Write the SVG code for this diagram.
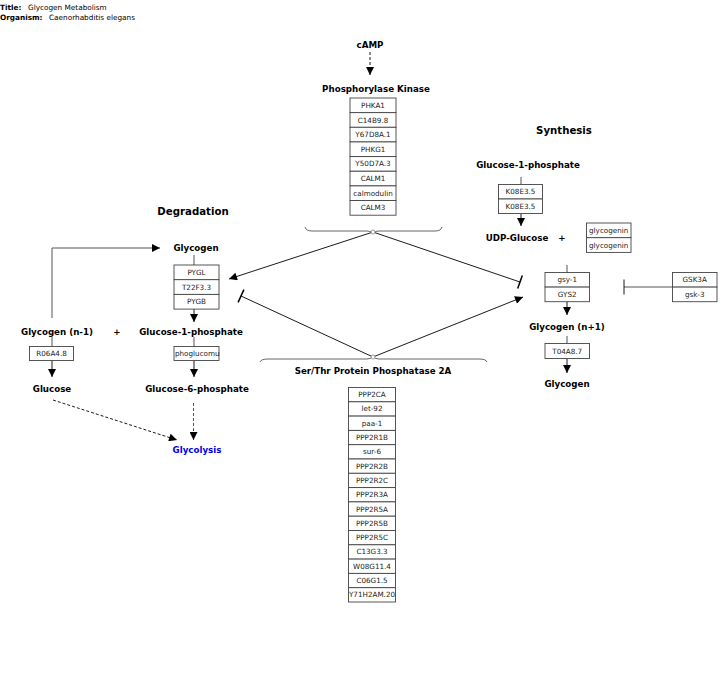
<svg xmlns="http://www.w3.org/2000/svg" width="727" height="693" viewBox="0 0 727 693">
<style>
text{font-family:"DejaVu Sans","Liberation Sans",sans-serif;}
.t{font-size:7.3px;}
.tb{font-size:7.3px;font-weight:bold;}
.lbl{font-size:8.7px;font-weight:bold;text-anchor:middle;fill:#000;}
.hd{font-size:10.2px;font-weight:bold;text-anchor:middle;}
.g{font-size:7.2px;text-anchor:middle;fill:#222;}
.box{fill:#fff;stroke:#444;stroke-width:0.9;}
.c{stroke:#000;stroke-width:0.9;fill:none;}
.cg{stroke:#555;stroke-width:1;fill:none;}
.br{stroke:#555;stroke-width:0.9;fill:none;}
</style>
<defs>
<marker id="arr" viewBox="0 0 10 10" refX="10" refY="5" markerWidth="9" markerHeight="8" markerUnits="userSpaceOnUse" orient="auto"><path d="M0,0 L10,5 L0,10 z" fill="#000"/></marker>
</defs>
<rect width="727" height="693" fill="#fff"/>
<g id="header">
<text x="0" y="10" class="tb">Title:</text><text x="28" y="10" class="t">Glycogen Metabolism</text>
<text x="0" y="20" class="tb">Organism:</text><text x="49" y="20" class="t">Caenorhabditis elegans</text>
</g>
<g id="headings">
<text x="193" y="215" class="hd">Degradation</text>
<text x="564" y="134" class="hd">Synthesis</text>
</g>
<g id="connectors">
<line x1="370" y1="52" x2="370" y2="75" class="c" stroke-dasharray="3,2" marker-end="url(#arr)"/>
<path d="M305,227 Q306,231 312,231 L367,231 Q371,231 373,233 Q375,231 379,231 L435,231 Q441,231 442,227" class="br"/>
<path d="M260,362 Q261,359 268,359 L367,359 Q371,359 373,356.5 Q375,359 379,359 L479,359 Q486,359 487,362" class="br"/>
<line x1="373" y1="232" x2="229" y2="279" class="c" marker-end="url(#arr)"/>
<line x1="373" y1="232" x2="520" y2="282" class="c"/>
<line x1="517.7" y1="288.6" x2="522.3" y2="275.4" stroke="#000" stroke-width="1.5"/>
<line x1="373" y1="357" x2="523" y2="297" class="c" marker-end="url(#arr)"/>
<line x1="373" y1="357" x2="241" y2="296" class="c"/>
<line x1="238.1" y1="302.4" x2="243.9" y2="289.6" stroke="#000" stroke-width="1.5"/>
<circle cx="373" cy="232" r="2" fill="#fff" stroke="#777" stroke-width="0.7"/>
<circle cx="373" cy="357" r="2" fill="#fff" stroke="#777" stroke-width="0.7"/>
<polyline points="52,318 52,248 160,248" class="cg" marker-end="url(#arr)"/>
<line x1="194" y1="255" x2="194" y2="265" class="cg"/>
<line x1="194" y1="309" x2="194" y2="322" class="c" marker-end="url(#arr)"/>
<line x1="52" y1="337" x2="52" y2="346.5" class="cg"/>
<line x1="52" y1="360.5" x2="52" y2="377" class="c" marker-end="url(#arr)"/>
<line x1="194" y1="337" x2="194" y2="346.5" class="cg"/>
<line x1="194" y1="360.5" x2="194" y2="377" class="c" marker-end="url(#arr)"/>
<line x1="53" y1="400" x2="177" y2="440" class="c" stroke-dasharray="3,2" marker-end="url(#arr)"/>
<line x1="193.5" y1="403" x2="193.5" y2="440" class="cg" stroke-dasharray="3,2" marker-end="url(#arr)"/>
<line x1="521" y1="177" x2="521" y2="184.5" class="cg"/>
<line x1="521" y1="213.5" x2="521" y2="226" class="c" marker-end="url(#arr)"/>
<line x1="567" y1="265" x2="567" y2="272.5" class="cg"/>
<line x1="567" y1="301.7" x2="567" y2="315" class="c" marker-end="url(#arr)"/>
<line x1="567" y1="336" x2="567" y2="343.5" class="cg"/>
<line x1="567" y1="358.5" x2="567" y2="373" class="c" marker-end="url(#arr)"/>
<line x1="672.5" y1="287" x2="624" y2="287" class="cg"/>
<line x1="624" y1="279.5" x2="624" y2="294.5" class="c" stroke-width="1.4"/>
</g>
<g id="cAMP"><text x="370" y="48" class="lbl">cAMP</text></g>
<g id="phosphorylase-kinase">
<text x="376" y="92" class="lbl">Phosphorylase Kinase</text>
<rect x="350" y="98" width="46" height="14.65" class="box"/><text x="373" y="107.8" class="g">PHKA1</text>
<rect x="350" y="112.65" width="46" height="14.65" class="box"/><text x="373" y="122.5" class="g">C14B9.8</text>
<rect x="350" y="127.3" width="46" height="14.65" class="box"/><text x="373" y="137.1" class="g">Y67D8A.1</text>
<rect x="350" y="141.95" width="46" height="14.65" class="box"/><text x="373" y="151.8" class="g">PHKG1</text>
<rect x="350" y="156.6" width="46" height="14.65" class="box"/><text x="373" y="166.4" class="g">Y50D7A.3</text>
<rect x="350" y="171.25" width="46" height="14.65" class="box"/><text x="373" y="181.1" class="g">CALM1</text>
<rect x="350" y="185.9" width="46" height="14.65" class="box"/><text x="373" y="195.7" class="g">calmodulin</text>
<rect x="350" y="200.55" width="46" height="14.65" class="box"/><text x="373" y="210.4" class="g">CALM3</text>
</g>
<g id="pp2a">
<text x="373" y="374" class="lbl">Ser/Thr Protein Phosphatase 2A</text>
<rect x="348.5" y="387.5" width="47" height="14.3" class="box"/><text x="372" y="397.1" class="g">PPP2CA</text>
<rect x="348.5" y="401.8" width="47" height="14.3" class="box"/><text x="372" y="411.4" class="g">let-92</text>
<rect x="348.5" y="416.1" width="47" height="14.3" class="box"/><text x="372" y="425.7" class="g">paa-1</text>
<rect x="348.5" y="430.4" width="47" height="14.3" class="box"/><text x="372" y="440" class="g">PPP2R1B</text>
<rect x="348.5" y="444.7" width="47" height="14.3" class="box"/><text x="372" y="454.3" class="g">sur-6</text>
<rect x="348.5" y="459" width="47" height="14.3" class="box"/><text x="372" y="468.6" class="g">PPP2R2B</text>
<rect x="348.5" y="473.3" width="47" height="14.3" class="box"/><text x="372" y="482.9" class="g">PPP2R2C</text>
<rect x="348.5" y="487.6" width="47" height="14.3" class="box"/><text x="372" y="497.2" class="g">PPP2R3A</text>
<rect x="348.5" y="501.9" width="47" height="14.3" class="box"/><text x="372" y="511.5" class="g">PPP2R5A</text>
<rect x="348.5" y="516.2" width="47" height="14.3" class="box"/><text x="372" y="525.8" class="g">PPP2R5B</text>
<rect x="348.5" y="530.5" width="47" height="14.3" class="box"/><text x="372" y="540.1" class="g">PPP2R5C</text>
<rect x="348.5" y="544.8" width="47" height="14.3" class="box"/><text x="372" y="554.4" class="g">C13G3.3</text>
<rect x="348.5" y="559.1" width="47" height="14.3" class="box"/><text x="372" y="568.7" class="g">W08G11.4</text>
<rect x="348.5" y="573.4" width="47" height="14.3" class="box"/><text x="372" y="583" class="g">C06G1.5</text>
<rect x="348.5" y="587.7" width="47" height="14.3" class="box"/><text x="372" y="597.3" class="g">Y71H2AM.20</text>
</g>
<g id="glycogen-deg">
<text x="196" y="251" class="lbl">Glycogen</text>
<rect x="174" y="265" width="45" height="14.7" class="box"/><text x="196.5" y="274.9" class="g">PYGL</text>
<rect x="174" y="279.7" width="45" height="14.7" class="box"/><text x="196.5" y="289.6" class="g">T22F3.3</text>
<rect x="174" y="294.4" width="45" height="14.7" class="box"/><text x="196.5" y="304.3" class="g">PYGB</text>
</g>
<g id="glycogen-n-1"><text x="57" y="334.5" class="lbl">Glycogen (n-1)</text><text x="117" y="334.5" class="lbl">+</text>
<rect x="29.5" y="346.5" width="44" height="14" class="box"/><text x="51.5" y="356" class="g">R06A4.8</text></g>
<g id="g1p-deg"><text x="191" y="334.5" class="lbl">Glucose-1-phosphate</text>
<rect x="174" y="346.5" width="45" height="14" class="box"/><text x="175" y="356" class="g" style="text-anchor:start">phoglucomu</text></g>
<g id="glucose"><text x="52" y="391.5" class="lbl">Glucose</text></g>
<g id="g6p"><text x="197" y="391.5" class="lbl">Glucose-6-phosphate</text></g>
<g id="glycolysis"><text x="197" y="452.5" class="lbl" style="fill:#0000ee">Glycolysis</text></g>
<g id="g1p-syn"><text x="528" y="167.5" class="lbl">Glucose-1-phosphate</text>
<rect x="498.5" y="184.5" width="44" height="14.5" class="box"/><text x="520.5" y="194.3" class="g">K08E3.5</text>
<rect x="498.5" y="199" width="44" height="14.5" class="box"/><text x="520.5" y="208.8" class="g">K08E3.5</text></g>
<g id="udp-glucose"><text x="517" y="241" class="lbl">UDP-Glucose</text><text x="562" y="241" class="lbl">+</text></g>
<g id="glycogenin">
<rect x="586.5" y="223" width="44.5" height="14.7" class="box"/><text x="608.7" y="232.9" class="g">glycogenin</text>
<rect x="586.5" y="237.7" width="44.5" height="14.7" class="box"/><text x="608.7" y="247.6" class="g">glycogenin</text></g>
<g id="gys">
<rect x="545" y="272.5" width="44.5" height="14.6" class="box"/><text x="567.2" y="282.3" class="g">gsy-1</text>
<rect x="545" y="287.1" width="44.5" height="14.6" class="box"/><text x="567.2" y="296.9" class="g">GYS2</text></g>
<g id="gsk3">
<rect x="672.5" y="272.5" width="44.5" height="14.6" class="box"/><text x="694.7" y="282.3" class="g">GSK3A</text>
<rect x="672.5" y="287.1" width="44.5" height="14.6" class="box"/><text x="694.7" y="296.9" class="g">gsk-3</text></g>
<g id="glycogen-n1"><text x="567" y="330" class="lbl">Glycogen (n+1)</text>
<rect x="545" y="343.5" width="44.5" height="15" class="box"/><text x="567.2" y="353.5" class="g">T04A8.7</text></g>
<g id="glycogen-syn"><text x="567" y="386.5" class="lbl">Glycogen</text></g>
</svg>
